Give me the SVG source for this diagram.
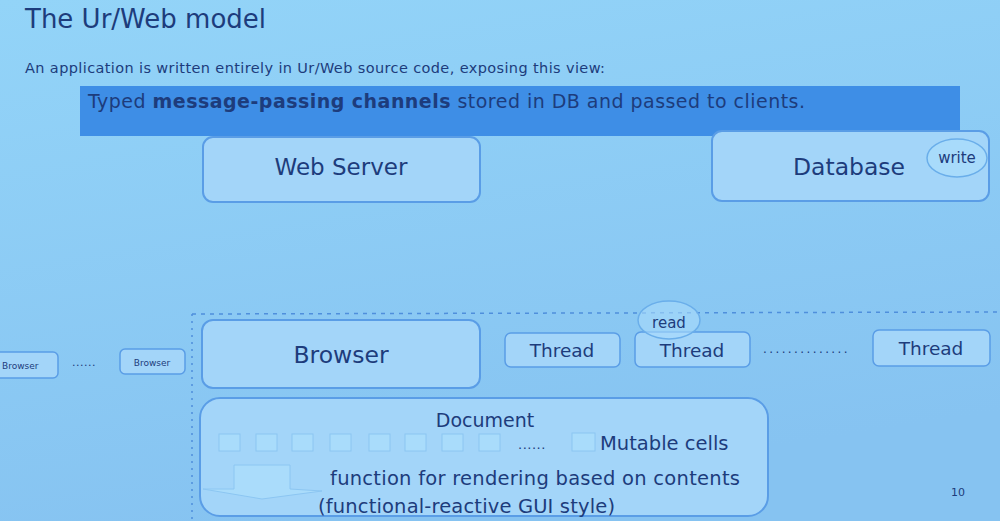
<svg xmlns="http://www.w3.org/2000/svg" width="1000" height="521" viewBox="0 0 1000 521">
<defs>
<linearGradient id="bg" x1="0" y1="0" x2="0.3" y2="1">
<stop offset="0" stop-color="#93d4f8"/>
<stop offset="1" stop-color="#86c3f1"/>
</linearGradient>
<style>
text{font-family:"DejaVu Sans","Liberation Sans",sans-serif;fill:#1d3c7c}
.box{fill:#a3d5f9;stroke:#5a9de6;stroke-width:2}
.small{fill:#a3d5f9;stroke:#5a9de6;stroke-width:1.5}
.cell{fill:#a9dcfb;stroke:#8cc6f2;stroke-width:1}
.lbl{text-anchor:middle}
.oval{fill:#a8dbfb;stroke:#6aaeea;stroke-width:1.5}
</style>
</defs>
<rect width="1000" height="521" fill="url(#bg)"/>
<text x="25" y="28" font-size="26">The Ur/Web model</text>
<text x="25" y="73" font-size="14.5" textLength="580" lengthAdjust="spacing">An application is written entirely in Ur/Web source code, exposing this view:</text>
<rect x="80" y="86" width="880" height="50" fill="#3e8ee6"/>
<text x="88" y="108" font-size="19" textLength="717" lengthAdjust="spacing">Typed <tspan font-weight="bold">message-passing channels</tspan> stored in DB and passed to clients.</text>

<g id="webserver">
<rect class="box" x="203" y="137" width="277" height="65" rx="10"/>
<text class="lbl" x="341" y="175" font-size="23">Web Server</text>
</g>
<g id="database">
<rect class="box" x="712" y="131" width="277" height="70" rx="10"/>
<text class="lbl" x="849" y="175" font-size="23.5">Database</text>
<ellipse class="oval" cx="957" cy="158" rx="30" ry="19"/>
<text class="lbl" x="957" y="163" font-size="15">write</text>
</g>

<g id="boundary" fill="none" stroke="#4f8fdc" stroke-width="1.5" stroke-dasharray="4,5">
<line x1="192" y1="314" x2="1000" y2="312"/>
<line x1="192" y1="314" x2="192" y2="521" stroke-dasharray="2,5"/>
</g>

<g id="browser-far">
<rect class="small" x="-4" y="352" width="62" height="26" rx="5"/>
<text x="2" y="369" font-size="9">Browser</text>
</g>
<g id="connectors">
<text x="72" y="366" font-size="11" letter-spacing="0.5">......</text>
<text x="763" y="353" font-size="12" letter-spacing="2.4">..............</text>
</g>
<g id="browser-near">
<rect class="small" x="120" y="349" width="65" height="25" rx="5"/>
<text class="lbl" x="152" y="366" font-size="9">Browser</text>
</g>
<g id="browser">
<rect class="box" x="202" y="320" width="278" height="68" rx="11"/>
<text class="lbl" x="341" y="363" font-size="23.5">Browser</text>
</g>
<g id="thread1">
<rect class="small" x="505" y="333" width="115" height="34" rx="6"/>
<text class="lbl" x="562" y="357" font-size="18.5">Thread</text>
</g>
<g id="thread2">
<rect class="small" x="635" y="332" width="115" height="35" rx="6"/>
<text class="lbl" x="692" y="357" font-size="18.5">Thread</text>
<ellipse class="oval" cx="669" cy="320" rx="31" ry="19" fill-opacity="0.6"/>
<text class="lbl" x="669" y="328" font-size="15">read</text>
</g>
<g id="thread3">
<rect class="small" x="873" y="330" width="117" height="36" rx="6"/>
<text class="lbl" x="931" y="355" font-size="18.5">Thread</text>
</g>

<g id="document">
<rect class="box" x="200" y="398" width="568" height="118" rx="20"/>
<text class="lbl" x="485" y="427" font-size="19">Document</text>
<rect class="cell" x="219" y="434" width="21" height="17"/>
<rect class="cell" x="256" y="434" width="21" height="17"/>
<rect class="cell" x="292" y="434" width="21" height="17"/>
<rect class="cell" x="330" y="434" width="21" height="17"/>
<rect class="cell" x="369" y="434" width="21" height="17"/>
<rect class="cell" x="405" y="434" width="21" height="17"/>
<rect class="cell" x="442" y="434" width="21" height="17"/>
<rect class="cell" x="479" y="434" width="21" height="17"/>
<text x="518" y="449" font-size="13" letter-spacing="0.5">......</text>
<rect class="cell" x="572" y="433" width="23" height="18"/>
<text x="600" y="450" font-size="19.5">Mutable cells</text>
<polygon points="234,465 290,465 290,489 322,491 262,499 203,489 234,489" fill="#aadcfb" stroke="#8cc6f2" stroke-width="1"/>
<text x="330" y="485" font-size="19.5" textLength="410" lengthAdjust="spacing">function for rendering based on contents</text>
<text x="318" y="513" font-size="19.5" textLength="297" lengthAdjust="spacing">(functional-reactive GUI style)</text>
</g>
<text x="951" y="496" font-size="11" font-family="Liberation Serif,serif">10</text>
</svg>
